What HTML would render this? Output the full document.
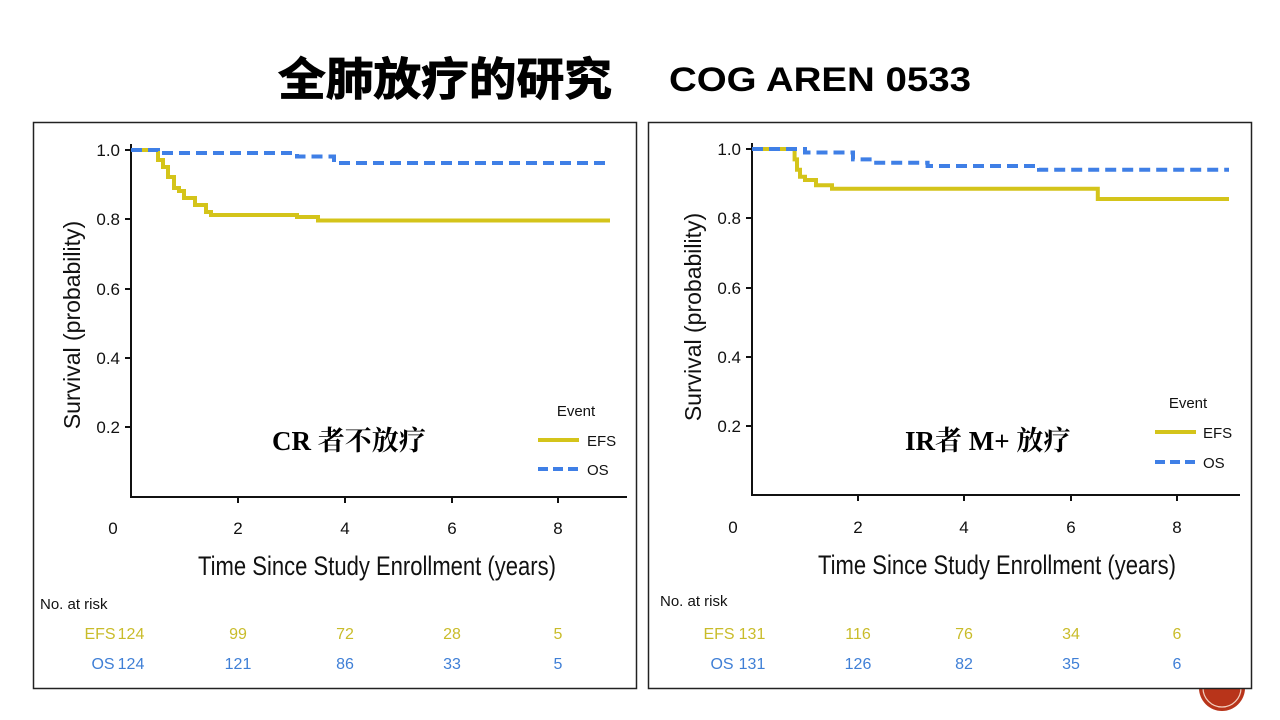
<!DOCTYPE html>
<html><head><meta charset="utf-8"><style>
html,body{margin:0;padding:0;background:#fff;width:1280px;height:720px;overflow:hidden}
svg{display:block}
</style></head><body>
<svg width="1280" height="720" viewBox="0 0 1280 720" xmlns="http://www.w3.org/2000/svg" font-family="'Liberation Sans', sans-serif">
<rect width="1280" height="720" fill="#fff"/>
<circle cx="1222" cy="688" r="23" fill="#b8341a"/>
<circle cx="1222" cy="688" r="19" fill="none" stroke="#f3d0c0" stroke-width="1.2"/>
<text x="278" y="95" font-size="45" font-weight="bold" stroke="#000" stroke-width="1" textLength="334" lengthAdjust="spacingAndGlyphs" font-family="'Liberation Sans','Noto Sans CJK SC',sans-serif" fill="#000">全肺放疗的研究</text>
<text x="820" y="91" font-size="34" font-weight="bold" text-anchor="middle" fill="#000" textLength="302" lengthAdjust="spacingAndGlyphs">COG AREN 0533</text>

<!-- LEFT PANEL -->
<rect x="33.5" y="122.5" width="603" height="566" fill="#fff" stroke="#222" stroke-width="1.5"/>
<g stroke="#111" stroke-width="2" fill="none">
<path d="M131 144V497H627"/>
<path d="M131 150h-6M131 219h-6M131 289h-6M131 358h-6M131 427h-6"/>
<path d="M238 497v6M345 497v6M452 497v6M558 497v6"/>
</g>
<g font-size="17" fill="#111" text-anchor="end">
<text x="120" y="156">1.0</text><text x="120" y="225">0.8</text><text x="120" y="295">0.6</text><text x="120" y="364">0.4</text><text x="120" y="433">0.2</text>
</g>
<g font-size="17" fill="#111" text-anchor="middle">
<text x="113" y="534">0</text><text x="238" y="534">2</text><text x="345" y="534">4</text><text x="452" y="534">6</text><text x="558" y="534">8</text>
</g>
<text transform="translate(80,325) rotate(-90)" font-size="23" text-anchor="middle" fill="#111">Survival (probability)</text>
<text x="198" y="575" font-size="27" fill="#111" textLength="358" lengthAdjust="spacingAndGlyphs">Time Since Study Enrollment (years)</text>
<path d="M131 150H158V160H163V167H168V177H174V188H179V191H184V198H195V205H206V212H211V215H297V217H318V220.5H610" fill="none" stroke="#d4c41a" stroke-width="4"/>
<path d="M131 150H158V153H297V156.5H334V163H610" fill="none" stroke="#3f7fe6" stroke-width="4" stroke-dasharray="11,6"/>
<text x="576" y="416" font-size="15" fill="#111" text-anchor="middle">Event</text>
<line x1="538" y1="440" x2="579" y2="440" stroke="#d4c41a" stroke-width="4"/>
<text x="587" y="446" font-size="15" fill="#111">EFS</text>
<line x1="538" y1="469" x2="579" y2="469" stroke="#3f7fe6" stroke-width="4" stroke-dasharray="10,5"/>
<text x="587" y="475" font-size="15" fill="#111">OS</text>
<text x="272" y="450" font-size="27" font-weight="bold" fill="#000" font-family="'Liberation Serif','Noto Serif CJK SC',serif">CR 者不放疗</text>
<text x="40" y="609" font-size="15" fill="#111">No. at risk</text>
<g font-size="16" fill="#c9bc2a" text-anchor="middle"><text x="100" y="639">EFS</text><text x="131" y="639">124</text><text x="238" y="639">99</text><text x="345" y="639">72</text><text x="452" y="639">28</text><text x="558" y="639">5</text></g>
<g font-size="16" fill="#3f7fd6" text-anchor="middle"><text x="103" y="669">OS</text><text x="131" y="669">124</text><text x="238" y="669">121</text><text x="345" y="669">86</text><text x="452" y="669">33</text><text x="558" y="669">5</text></g>

<!-- RIGHT PANEL -->
<rect x="648.5" y="122.5" width="603" height="566" fill="#fff" stroke="#222" stroke-width="1.5"/>
<g stroke="#111" stroke-width="2" fill="none">
<path d="M752 143V495H1240"/>
<path d="M752 149h-6M752 218h-6M752 288h-6M752 357h-6M752 426h-6"/>
<path d="M858 495v6M964 495v6M1071 495v6M1177 495v6"/>
</g>
<g font-size="17" fill="#111" text-anchor="end">
<text x="741" y="155">1.0</text><text x="741" y="224">0.8</text><text x="741" y="294">0.6</text><text x="741" y="363">0.4</text><text x="741" y="432">0.2</text>
</g>
<g font-size="17" fill="#111" text-anchor="middle">
<text x="733" y="533">0</text><text x="858" y="533">2</text><text x="964" y="533">4</text><text x="1071" y="533">6</text><text x="1177" y="533">8</text>
</g>
<text transform="translate(701,317) rotate(-90)" font-size="23" text-anchor="middle" fill="#111">Survival (probability)</text>
<text x="818" y="574" font-size="27" fill="#111" textLength="358" lengthAdjust="spacingAndGlyphs">Time Since Study Enrollment (years)</text>
<path d="M752 149H794.6V159.4H797V169.8H800V176.7H805V180H816V185.3H832V188.8H927.6V188.8H1097.8V199H1229" fill="none" stroke="#d4c41a" stroke-width="4"/>
<path d="M752 149H805V152.5H853V159.4H874V162.8H927.6V166H1039V169.8H1229" fill="none" stroke="#3f7fe6" stroke-width="4" stroke-dasharray="11,6"/>
<text x="1188" y="408" font-size="15" fill="#111" text-anchor="middle">Event</text>
<line x1="1155" y1="432" x2="1196" y2="432" stroke="#d4c41a" stroke-width="4"/>
<text x="1203" y="438" font-size="15" fill="#111">EFS</text>
<line x1="1155" y1="462" x2="1196" y2="462" stroke="#3f7fe6" stroke-width="4" stroke-dasharray="10,5"/>
<text x="1203" y="468" font-size="15" fill="#111">OS</text>
<text x="905" y="450" font-size="27" font-weight="bold" fill="#000" font-family="'Liberation Serif','Noto Serif CJK SC',serif">IR者 M+ 放疗</text>
<text x="660" y="606" font-size="15" fill="#111">No. at risk</text>
<g font-size="16" fill="#c9bc2a" text-anchor="middle"><text x="719" y="639">EFS</text><text x="752" y="639">131</text><text x="858" y="639">116</text><text x="964" y="639">76</text><text x="1071" y="639">34</text><text x="1177" y="639">6</text></g>
<g font-size="16" fill="#3f7fd6" text-anchor="middle"><text x="722" y="669">OS</text><text x="752" y="669">131</text><text x="858" y="669">126</text><text x="964" y="669">82</text><text x="1071" y="669">35</text><text x="1177" y="669">6</text></g>
</svg>
</body></html>
